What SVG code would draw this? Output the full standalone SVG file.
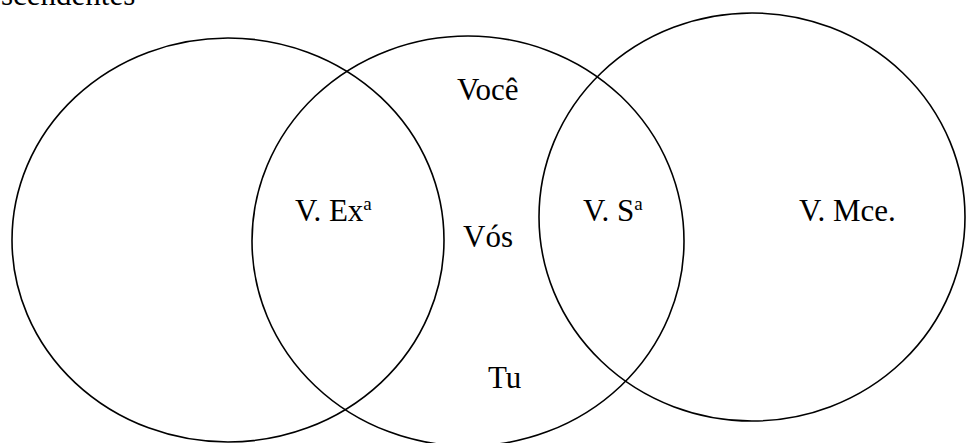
<svg xmlns="http://www.w3.org/2000/svg" width="966" height="443" viewBox="0 0 966 443">
<style>
.c{fill:none;stroke:#000;stroke-width:1.6}
.t{font-family:'Liberation Serif','Times New Roman',serif;font-size:31px;fill:#000}
.sup{font-size:19px}
</style>
<rect width="966" height="443" fill="#fff"/>
<g id="connectors"></g>
<g id="circle-left"><ellipse class="c" cx="228" cy="240" rx="216" ry="202"/></g>
<g id="circle-middle"><ellipse class="c" cx="468" cy="241" rx="216" ry="205"/></g>
<g id="circle-right"><ellipse class="c" cx="752" cy="217" rx="213" ry="204"/></g>
<g id="title"><text class="t" x="1" y="5">scendentes</text></g>
<g id="label-voce"><text class="t" x="457" y="100">Você</text></g>
<g id="label-vexa"><text class="t" x="295" y="221">V. Ex<tspan class="sup" dy="-11">a</tspan></text></g>
<g id="label-vos"><text class="t" x="463" y="247">Vós</text></g>
<g id="label-vsa"><text class="t" x="583" y="221">V. S<tspan class="sup" dy="-11">a</tspan></text></g>
<g id="label-vmce"><text class="t" x="799" y="221">V. Mce.</text></g>
<g id="label-tu"><text class="t" x="488" y="388">Tu</text></g>
</svg>
